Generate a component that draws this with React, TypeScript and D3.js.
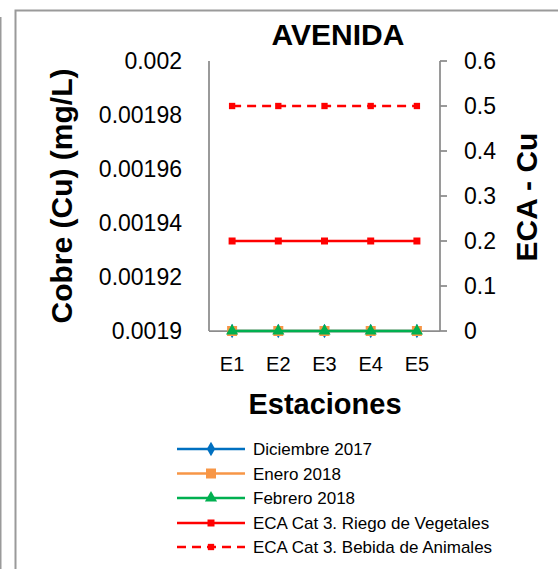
import React from "react";
import * as d3 from "d3";

const categories = ["E1", "E2", "E3", "E4", "E5"];
const dic2017 = [0.0019, 0.0019, 0.0019, 0.0019, 0.0019];
const ene2018 = [0.0019, 0.0019, 0.0019, 0.0019, 0.0019];
const feb2018 = [0.0019, 0.0019, 0.0019, 0.0019, 0.0019];
const ecaRiego = [0.2, 0.2, 0.2, 0.2, 0.2];
const ecaBebida = [0.5, 0.5, 0.5, 0.5, 0.5];
const leftTicks = [0.0019, 0.00192, 0.00194, 0.00196, 0.00198, 0.002];
const rightTicks = [0, 0.1, 0.2, 0.3, 0.4, 0.5, 0.6];
const legendLabels = [
  "Diciembre 2017",
  "Enero 2018",
  "Febrero 2018",
  "ECA Cat 3. Riego de Vegetales",
  "ECA Cat 3. Bebida de Animales",
];

const W = 558;
const H = 569;
const plot = { left: 209, right: 440, top: 61, bottom: 331 };
const FONT = "'Liberation Sans', Arial, sans-serif";
const AXIS = "#8c8c8c";

const x = d3.scaleBand<string>().domain(categories).range([plot.left, plot.right]);
const yL = d3.scaleLinear().domain([0.0019, 0.002]).range([plot.bottom, plot.top]);
const yR = d3.scaleLinear().domain([0, 0.6]).range([plot.bottom, plot.top]);
const cx = (c: string) => (x(c) as number) + x.bandwidth() / 2;

type Series = {
  name: string;
  values: number[];
  axis: "L" | "R";
  color: string;
  dash?: string;
  marker: "diamond" | "square" | "triangle";
  msize: number;
};

const series: Series[] = [
  { name: legendLabels[0], values: dic2017, axis: "L", color: "#0070C0", marker: "diamond", msize: 60 },
  { name: legendLabels[1], values: ene2018, axis: "L", color: "#F79646", marker: "square", msize: 100 },
  { name: legendLabels[2], values: feb2018, axis: "L", color: "#00B050", marker: "triangle", msize: 64 },
  { name: legendLabels[3], values: ecaRiego, axis: "R", color: "#FF0000", marker: "square", msize: 49 },
  { name: legendLabels[4], values: ecaBebida, axis: "R", color: "#FF0000", dash: "9,6", marker: "square", msize: 40 },
];

const symbolFor = (m: Series["marker"]) =>
  m === "diamond" ? d3.symbolDiamond : m === "square" ? d3.symbolSquare : d3.symbolTriangle;

export default function App() {
  const line = (s: Series) =>
    d3
      .line<number>()
      .x((_, i) => cx(categories[i]))
      .y((v) => (s.axis === "L" ? yL(v) : yR(v)))(s.values) as string;

  const legendX1 = 177;
  const legendX2 = 245;
  const legendY = [449, 473.5, 498, 523, 547];

  return (
    <svg
      width={W}
      height={H}
      style={{ position: "fixed", left: 0, top: 0, background: "#fff" }}
      fontFamily={FONT}
    >
      <rect x={0} y={0} width={W} height={H} fill="#fff" />
      {/* outer borders */}
      <line x1={0.75} y1={17} x2={0.75} y2={H} stroke="#9a9a9a" strokeWidth={1.5} />
      <path d={`M15.5,${H} V10.5 H${W}`} fill="none" stroke="#9a9a9a" strokeWidth={2} />

      {/* title */}
      <text x={338} y={45} textAnchor="middle" fontSize={30} fontWeight="bold" fill="#000">
        AVENIDA
      </text>

      {/* axes */}
      <line x1={plot.left} y1={plot.top} x2={plot.left} y2={plot.bottom} stroke={AXIS} strokeWidth={1.75} />
      <line x1={plot.right} y1={plot.top} x2={plot.right} y2={plot.bottom} stroke={AXIS} strokeWidth={1.75} />
      <line x1={plot.left} y1={plot.bottom} x2={plot.right} y2={plot.bottom} stroke={AXIS} strokeWidth={1.75} />
      {rightTicks.map((t) => (
        <line key={"rt" + t} x1={plot.right} x2={plot.right + 7} y1={yR(t)} y2={yR(t)} stroke={AXIS} strokeWidth={1.75} />
      ))}

      {/* left tick labels */}
      {leftTicks.map((t) => (
        <text key={"lt" + t} x={182} y={yL(t) + 8} textAnchor="end" fontSize={23} fill="#000">
          {String(+t.toFixed(5))}
        </text>
      ))}
      {/* right tick labels */}
      {rightTicks.map((t) => (
        <text key={"rl" + t} x={464} y={yR(t) + 8} textAnchor="start" fontSize={23} fill="#000">
          {String(+t.toFixed(1))}
        </text>
      ))}
      {/* category labels */}
      {categories.map((c) => (
        <text key={c} x={cx(c)} y={371} textAnchor="middle" fontSize={20} fill="#000">
          {c}
        </text>
      ))}

      {/* axis titles */}
      <text x={325} y={414} textAnchor="middle" fontSize={29} fontWeight="bold" fill="#000">
        Estaciones
      </text>
      <text
        transform={`translate(72,196) rotate(-90)`}
        textAnchor="middle"
        fontSize={30}
        fontWeight="bold"
        fill="#000"
      >
        Cobre (Cu) (mg/L)
      </text>
      <text
        transform={`translate(537,197) rotate(-90)`}
        textAnchor="middle"
        fontSize={30}
        fontWeight="bold"
        fill="#000"
      >
        ECA - Cu
      </text>

      {/* series */}
      {series.map((s) => (
        <g key={s.name}>
          <path d={line(s)} fill="none" stroke={s.color} strokeWidth={2.5} strokeDasharray={s.dash} />
          {s.values.map((v, i) => (
            <path
              key={i}
              transform={`translate(${cx(categories[i])},${s.axis === "L" ? yL(v) : yR(v)})`}
              d={d3.symbol().type(symbolFor(s.marker)).size(s.msize)() as string}
              fill={s.color}
            />
          ))}
        </g>
      ))}

      {/* legend */}
      {series.map((s, i) => (
        <g key={"lg" + i}>
          <line
            x1={legendX1}
            x2={legendX2}
            y1={legendY[i]}
            y2={legendY[i]}
            stroke={s.color}
            strokeWidth={2.5}
            strokeDasharray={s.dash}
          />
          <path
            transform={`translate(${(legendX1 + legendX2) / 2},${legendY[i]})`}
            d={d3.symbol().type(symbolFor(s.marker)).size(s.msize)() as string}
            fill={s.color}
          />
          <text x={253} y={legendY[i] + 6} fontSize={17} fill="#000">
            {s.name}
          </text>
        </g>
      ))}
    </svg>
  );
}
